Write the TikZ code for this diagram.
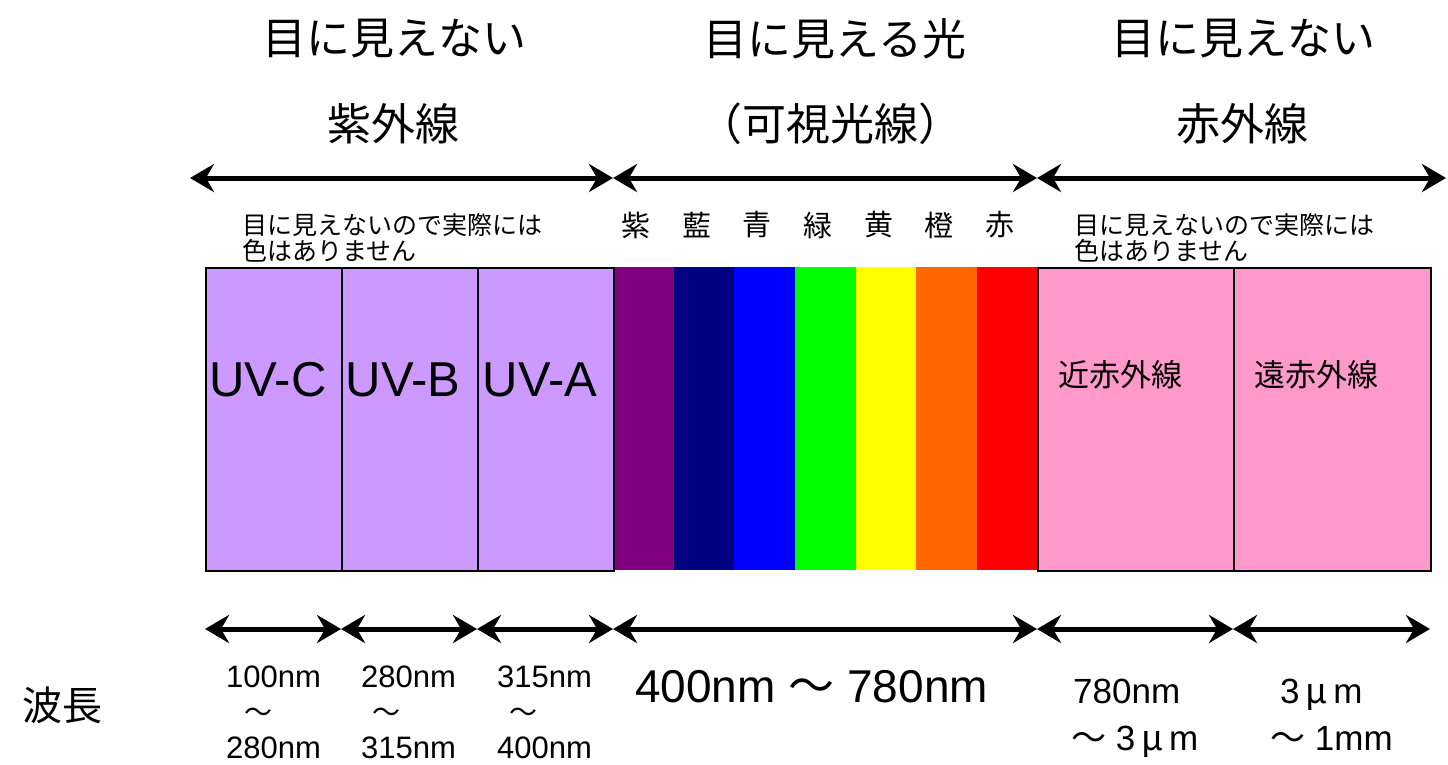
\documentclass[tikz,border=0pt]{standalone}
\usepackage{fontspec}
\setmainfont{Liberation Sans}
\newfontfamily\jp{Noto Sans CJK JP}
\usetikzlibrary{arrows.meta}
\definecolor{uvcol}{HTML}{CC99FF}
\definecolor{ircol}{HTML}{FF99CC}
\definecolor{vio}{HTML}{800080}
\definecolor{ind}{HTML}{000080}
\definecolor{blu}{HTML}{0000FF}
\definecolor{gre}{HTML}{00FF00}
\definecolor{yel}{HTML}{FFFF00}
\definecolor{ora}{HTML}{FF6600}
\definecolor{re}{HTML}{FF0000}
\tikzset{
  bandbox/.style={draw=black, line width=1.5pt, inner sep=0pt, anchor=north west, minimum height=303pt},
  stripe/.style={inner sep=0pt, anchor=north west, minimum height=303pt, minimum width=60.6pt},
  dbl/.style={line width=5pt, {Stealth[length=24pt,width=28pt,inset=8pt]}-{Stealth[length=24pt,width=28pt,inset=8pt]}},
  big/.style={font=\jp\fontsize{44}{50}\selectfont, inner sep=0pt},
  note/.style={font=\jp\fontsize{25}{26}\selectfont, inner sep=0pt, anchor=west},
  col/.style={font=\jp\fontsize{29}{32}\selectfont, inner sep=0pt},
  uvlab/.style={font=\fontsize{49}{52}\selectfont, inner sep=0pt},
  irlab/.style={font=\jp\fontsize{31}{34}\selectfont, inner sep=0pt},
  wl/.style={font=\fontsize{31}{36}\selectfont, inner sep=0pt, anchor=base west},
  wr/.style={font=\fontsize{35}{40}\selectfont, inner sep=0pt, anchor=base west},
  til/.style={font=\jp\fontsize{28}{32}\selectfont, inner sep=0pt, anchor=west},
}
\begin{document}
\begin{tikzpicture}[x=1pt,y=-1pt]
\useasboundingbox (0,0) rectangle (1448,764);
% titles
\node[big] (t1) at (394,39) {目に見えない};
\node[big] (t2) at (393,124) {紫外線};
\node[big] (t3) at (835,39) {目に見える光};
\node[big] (t4) at (830,124) {（可視光線）};
\node[big] (t5) at (1243,39) {目に見えない};
\node[big] (t6) at (1242,124) {赤外線};
% top arrows
\coordinate (a0) at (190,178);
\coordinate (a1) at (613,178);
\coordinate (a2) at (1037,178);
\coordinate (a3) at (1446,178);
\draw[dbl] (a0) -- (a1);
\draw[dbl] (a1) -- (a2);
\draw[dbl] (a2) -- (a3);
% notes
\node[note] (n1a) at (242,225) {目に見えないので実際には};
\node[note] (n1b) at (242,251) {色はありません};
\node[note] (n2a) at (1074,225) {目に見えないので実際には};
\node[note] (n2b) at (1074,251) {色はありません};
% visible stripes
\node[stripe, fill=vio] (s1) at (613,267) {};
\node[stripe, fill=ind] (s2) at (673.6,267) {};
\node[stripe, fill=blu] (s3) at (734.2,267) {};
\node[stripe, fill=gre] (s4) at (794.8,267) {};
\node[stripe, fill=yel] (s5) at (855.4,267) {};
\node[stripe, fill=ora] (s6) at (916,267) {};
\node[stripe, fill=re] (s7) at (976.4,267) {};
\node[col] (c1) at (636,225) {紫};
\node[col] (c2) at (697,225) {藍};
\node[col] (c3) at (757,225) {青};
\node[col] (c4) at (818,225) {緑};
\node[col] (c5) at (879,225) {黄};
\node[col] (c6) at (939,225) {橙};
\node[col] (c7) at (1000,225) {赤};
% UV boxes
\node[bandbox, fill=uvcol, minimum width=136pt] (b1) at (205,267) {};
\node[bandbox, fill=uvcol, minimum width=136pt] (b2) at (341,267) {};
\node[bandbox, fill=uvcol, minimum width=136pt] (b3) at (477,267) {};
\node[uvlab] (u1) at (268,380) {UV-C};
\node[uvlab] (u2) at (403,380) {UV-B};
\node[uvlab] (u3) at (540,380) {UV-A};
% IR boxes
\node[bandbox, fill=ircol, minimum width=196pt] (b4) at (1037,267) {};
\node[bandbox, fill=ircol, minimum width=197pt] (b5) at (1233,267) {};
\node[irlab] (i1) at (1120,375) {近赤外線};
\node[irlab] (i2) at (1316,375) {遠赤外線};
% bottom arrows
\coordinate (w0) at (205,629);
\coordinate (w1) at (341,629);
\coordinate (w2) at (477,629);
\coordinate (w3) at (613,629);
\coordinate (w4) at (1037,629);
\coordinate (w5) at (1233,629);
\coordinate (w6) at (1430,629);
\draw[dbl] (w0) -- (w1);
\draw[dbl] (w1) -- (w2);
\draw[dbl] (w2) -- (w3);
\draw[dbl] (w3) -- (w4);
\draw[dbl] (w4) -- (w5);
\draw[dbl] (w5) -- (w6);
% wavelength labels
\node[font=\jp\fontsize{40}{44}\selectfont, inner sep=0pt] (wave) at (63,705) {波長};
\node[wl] (l1a) at (226,687) {100nm};
\node[til] (l1b) at (244,715) {～};
\node[wl] (l1c) at (226,758) {280nm};
\node[wl] (l2a) at (361,687) {280nm};
\node[til] (l2b) at (372,715) {～};
\node[wl] (l2c) at (361,758) {315nm};
\node[wl] (l3a) at (497,687) {315nm};
\node[til] (l3b) at (509,715) {～};
\node[wl] (l3c) at (497,758) {400nm};
\node[font=\fontsize{46}{50}\selectfont, inner sep=0pt, anchor=base west] (lv) at (635,702) {400nm {\jp ～} 780nm};
\node[wr] (l5a) at (1073,703) {780nm};
\node[wr] (l5b) at (1071,750) {{\jp ～} 3\,{\jp μ}\,m};
\node[wr] (l6a) at (1280,703) {3\,{\jp μ}\,m};
\node[wr] (l6b) at (1270,750) {{\jp ～} 1mm};
\end{tikzpicture}
\end{document}
